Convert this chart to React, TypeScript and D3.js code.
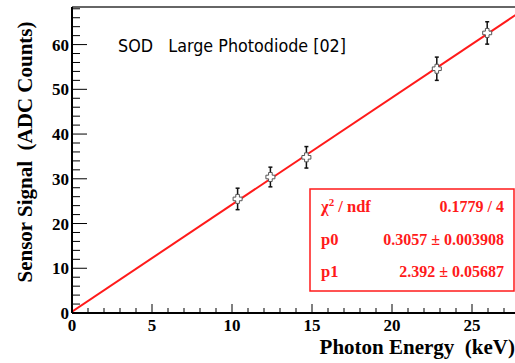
import React from "react";
import * as d3 from "d3";

// Measured points: photon energy (keV) vs sensor signal (ADC counts)
const energy = [10.35, 12.4, 14.65, 22.8, 25.95];
const energyErr = [0.2, 0.2, 0.2, 0.2, 0.2];
const signal = [25.5, 30.4, 34.8, 54.6, 62.6];
const signalErr = [2.4, 2.2, 2.4, 2.6, 2.5];

// Linear fit results
const p0 = 0.3057;
const p1 = 2.392;
const statRows = [
  { name: "chi", value: "0.1779 / 4" },
  { name: "p0", value: "0.3057 \u00B1 0.003908" },
  { name: "p1", value: "2.392 \u00B1 0.05687" },
];

const xTicks = [0, 5, 10, 15, 20, 25];
const yTicks = [0, 10, 20, 30, 40, 50, 60];

const W = 515;
const H = 363;
const left = 72;
const right = 516;
const top = 7;
const bottom = 313;

export default function App() {
  const x = d3.scaleLinear().domain([0, 27.75]).range([left, right]);
  const y = d3.scaleLinear().domain([0, 68.4]).range([bottom, top]);

  const xMinor = d3.range(0, 28, 1);
  const yMinor = d3.range(0, 69, 2);

  const fitLine = d3
    .line<number>()
    .x((e) => x(e))
    .y((e) => y(p0 + p1 * e));

  const serif = "'Liberation Serif', 'Times New Roman', serif";
  const red = "#ff1a1a";

  const cross = (cx: number, cy: number) => {
    const a = 1.8;
    const b = 4.5;
    return `M${cx - a},${cy - b}H${cx + a}V${cy - a}H${cx + b}V${cy + a}H${cx + a}V${cy + b}H${cx - a}V${cy + a}H${cx - b}V${cy - a}H${cx - a}Z`;
  };

  return (
    <svg
      width={W}
      height={H}
      style={{ position: "absolute", left: 0, top: 0, background: "#fff" }}
    >
      <defs>
        <clipPath id="plotArea">
          <rect x={left} y={top} width={right - left} height={bottom - top} />
        </clipPath>
      </defs>

      {/* frame */}
      <line x1={left} x2={right} y1={top} y2={top} stroke="#666" strokeWidth={2} />

      {/* fit line */}
      <path
        d={fitLine([0, 27.75]) || ""}
        stroke={red}
        strokeWidth={2}
        fill="none"
        clipPath="url(#plotArea)"
      />

      {/* data points with error bars */}
      {energy.map((e, i) => {
        const cx = x(e);
        const cy = y(signal[i]);
        const y1 = y(signal[i] + signalErr[i]);
        const y2 = y(signal[i] - signalErr[i]);
        const x1 = x(e - energyErr[i]);
        const x2 = x(e + energyErr[i]);
        return (
          <g key={i}>
            <line x1={cx} x2={cx} y1={y1} y2={y2} stroke="#111" strokeWidth={1.5} />
            <line x1={cx - 2} x2={cx + 2} y1={y1} y2={y1} stroke="#111" strokeWidth={1.5} />
            <line x1={cx - 2} x2={cx + 2} y1={y2} y2={y2} stroke="#111" strokeWidth={1.5} />
            <line x1={x1} x2={x2} y1={cy} y2={cy} stroke="#111" strokeWidth={1.2} />
            <path d={cross(cx, cy)} fill="#fff" stroke="#555" strokeWidth={1} />
          </g>
        );
      })}

      {/* y axis */}
      <line x1={left} x2={left} y1={top} y2={bottom} stroke="#000" strokeWidth={2} />
      {yMinor.map((v) => (
        <line
          key={"ym" + v}
          x1={left}
          x2={left + (v % 10 === 0 ? 15 : 8)}
          y1={y(v)}
          y2={y(v)}
          stroke="#000"
          strokeWidth={1}
        />
      ))}
      {yTicks.map((v) => (
        <text
          key={"yt" + v}
          x={left - 3}
          y={y(v) + 6}
          textAnchor="end"
          fontFamily={serif}
          fontWeight="bold"
          fontSize={17}
          fill="#000"
        >
          {v}
        </text>
      ))}

      {/* x axis */}
      <line x1={left} x2={right} y1={bottom} y2={bottom} stroke="#000" strokeWidth={2} />
      {xMinor.map((v) => (
        <line
          key={"xm" + v}
          x1={x(v)}
          x2={x(v)}
          y1={bottom}
          y2={bottom - (v % 5 === 0 ? 9 : 5)}
          stroke="#000"
          strokeWidth={1}
        />
      ))}
      {xTicks.map((v) => (
        <text
          key={"xt" + v}
          x={x(v)}
          y={331}
          textAnchor="middle"
          fontFamily={serif}
          fontWeight="bold"
          fontSize={17}
          fill="#000"
        >
          {v}
        </text>
      ))}

      {/* axis titles */}
      <text
        x={515}
        y={354}
        textAnchor="end"
        fontFamily={serif}
        fontWeight="bold"
        fontSize={21}
        fill="#000"
        style={{ whiteSpace: "pre" }}
      >
        {"Photon Energy  (keV)"}
      </text>
      <text
        transform="translate(32,152) rotate(-90)"
        textAnchor="middle"
        fontFamily={serif}
        fontWeight="bold"
        fontSize={21}
        fill="#000"
        style={{ whiteSpace: "pre" }}
      >
        {"Sensor Signal  (ADC Counts)"}
      </text>

      {/* plot title */}
      <text
        x={118}
        y={52}
        fontFamily="'Comic Sans MS', 'DejaVu Sans', sans-serif"
        fontSize={17}
        fill="#000"
        textLength={228}
        lengthAdjust="spacingAndGlyphs"
        style={{ whiteSpace: "pre" }}
      >
        {"SOD   Large Photodiode [02]"}
      </text>

      {/* fit statistics box */}
      <rect x={310} y={189} width={204} height={102} fill="#fff" stroke={red} strokeWidth={1.5} />
      {statRows.map((r, i) => {
        const by = 212 + i * 32.5;
        return (
          <g key={r.name} fontFamily={serif} fontWeight="bold" fill={red}>
            <text x={321} y={by} fontSize={16.5}>
              {r.name === "chi" ? (
                <>
                  {"\u03C7"}
                  <tspan dy={-6} fontSize={11}>2</tspan>
                  <tspan dy={6}>{" / ndf"}</tspan>
                </>
              ) : (
                r.name
              )}
            </text>
            <text x={504} y={by} fontSize={16} textAnchor="end">
              {r.value}
            </text>
          </g>
        );
      })}
    </svg>
  );
}
